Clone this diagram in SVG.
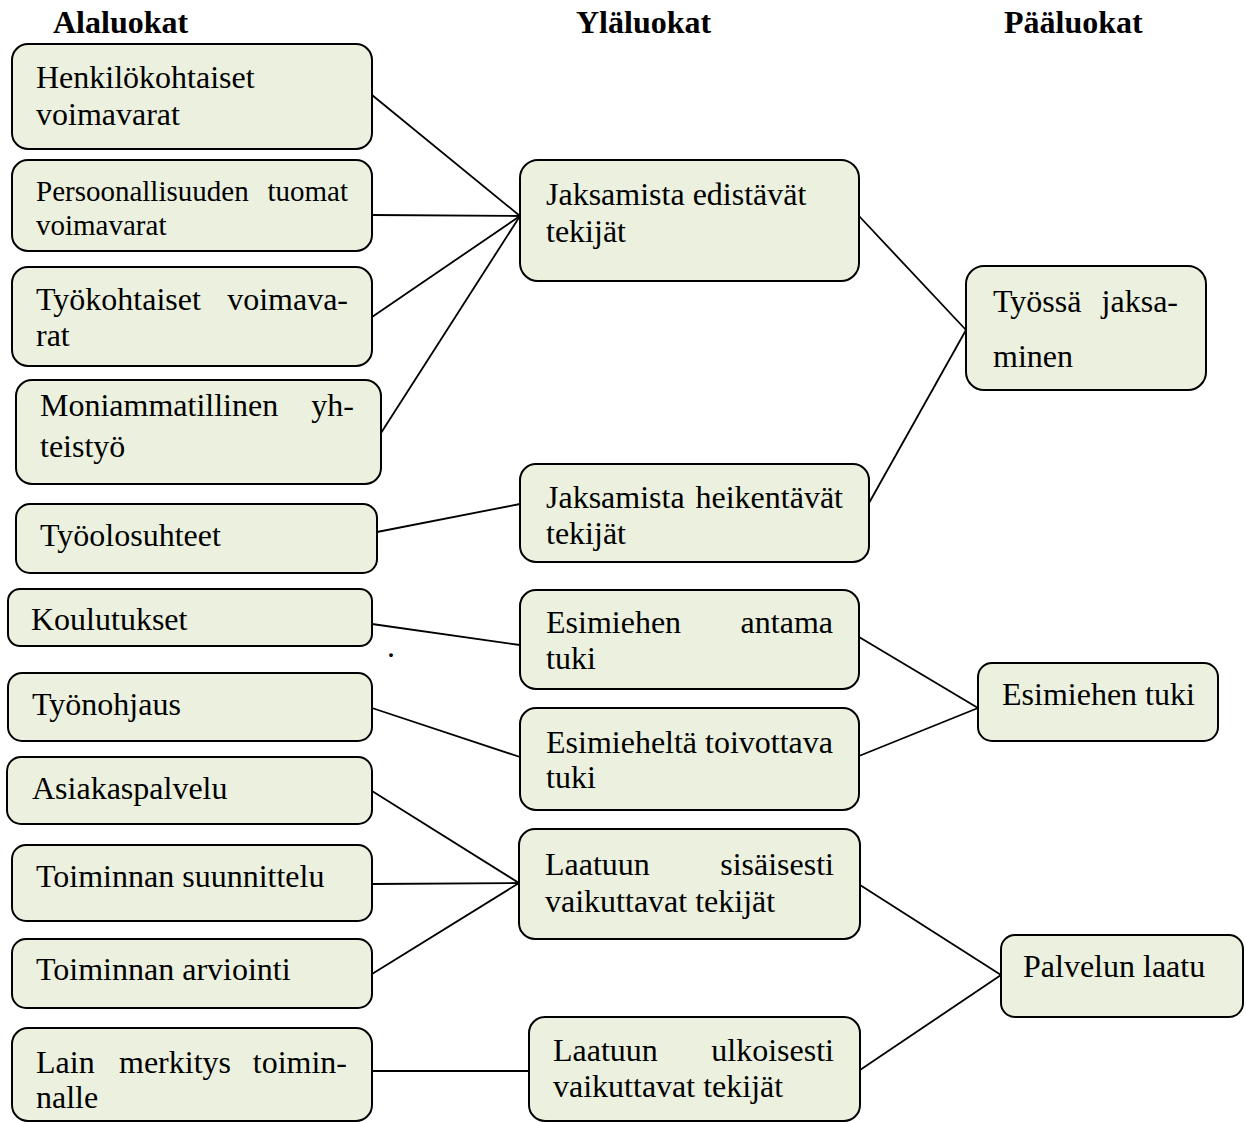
<svg xmlns="http://www.w3.org/2000/svg" width="1246" height="1122" viewBox="0 0 1246 1122">
<style>
.box{fill:#EBF1DE;stroke:#000;stroke-width:2}
.t{font-family:"Liberation Serif","Times New Roman",serif;font-size:32px;fill:#000}
.s{font-size:29px}
.h{font-family:"Liberation Serif","Times New Roman",serif;font-size:32px;font-weight:bold;fill:#000}
.e{text-anchor:end}
#connectors line{stroke:#000;stroke-width:1.8}
</style>
<rect width="1246" height="1122" fill="#fff"/>
<g id="headers">
<text class="h" x="53" y="33">Alaluokat</text>
<text class="h" x="576" y="33">Yläluokat</text>
<text class="h" x="1004" y="33">Pääluokat</text>
</g>
<g id="connectors">
<line x1="372" y1="95" x2="520" y2="216"/>
<line x1="372" y1="215" x2="520" y2="216"/>
<line x1="372" y1="317" x2="520" y2="216"/>
<line x1="381" y1="433" x2="520" y2="216"/>
<line x1="859" y1="216" x2="966" y2="330"/>
<line x1="869" y1="503" x2="966" y2="330"/>
<line x1="377" y1="532" x2="520" y2="504"/>
<line x1="372" y1="624" x2="520" y2="645"/>
<line x1="372" y1="708" x2="520" y2="757"/>
<line x1="859" y1="637" x2="978" y2="708"/>
<line x1="859" y1="756" x2="978" y2="708"/>
<line x1="372" y1="791" x2="519" y2="883"/>
<line x1="372" y1="884" x2="519" y2="883"/>
<line x1="372" y1="974" x2="519" y2="883"/>
<line x1="372" y1="1071" x2="529" y2="1071"/>
<line x1="860" y1="885" x2="1001" y2="975"/>
<line x1="860" y1="1070" x2="1001" y2="975"/>
</g>
<g id="n1"><rect class="box" x="12" y="44" width="360" height="105" rx="16"/>
<text class="t" x="36" y="88">Henkilökohtaiset</text><text class="t" x="36" y="125">voimavarat</text></g>
<g id="n2"><rect class="box" x="12" y="160" width="360" height="91" rx="16"/>
<text class="t s" x="36" y="201">Persoonallisuuden</text><text class="t s e" x="348" y="201">tuomat</text><text class="t s" x="36" y="235">voimavarat</text></g>
<g id="n3"><rect class="box" x="12" y="267" width="360" height="99" rx="16"/>
<text class="t" x="36" y="310">Työkohtaiset</text><text class="t e" x="348" y="310">voimava-</text><text class="t" x="36" y="346">rat</text></g>
<g id="n4"><rect class="box" x="16" y="380" width="365" height="104" rx="16"/>
<text class="t" x="40" y="416">Moniammatillinen</text><text class="t e" x="354" y="416">yh-</text><text class="t" x="40" y="457">teistyö</text></g>
<g id="n5"><rect class="box" x="16" y="504" width="361" height="69" rx="14"/>
<text class="t" x="40" y="546">Työolosuhteet</text></g>
<g id="n6"><rect class="box" x="8" y="589" width="364" height="57" rx="12"/>
<text class="t" x="31" y="630">Koulutukset</text></g>
<text class="t" x="387" y="657" font-size="20">.</text>
<g id="n7"><rect class="box" x="8" y="673" width="364" height="68" rx="14"/>
<text class="t" x="32" y="715">Työnohjaus</text></g>
<g id="n8"><rect class="box" x="7" y="757" width="365" height="67" rx="14"/>
<text class="t" x="32" y="799">Asiakaspalvelu</text></g>
<g id="n9"><rect class="box" x="12" y="845" width="360" height="76" rx="14"/>
<text class="t" x="36" y="887">Toiminnan suunnittelu</text></g>
<g id="n10"><rect class="box" x="12" y="939" width="360" height="69" rx="14"/>
<text class="t" x="36" y="980">Toiminnan arviointi</text></g>
<g id="n11"><rect class="box" x="12" y="1028" width="360" height="93" rx="16"/>
<text class="t" x="36" y="1073">Lain</text><text class="t" x="119" y="1073">merkitys</text><text class="t e" x="347" y="1073">toimin-</text><text class="t" x="36" y="1108">nalle</text></g>
<g id="m1"><rect class="box" x="520" y="160" width="339" height="121" rx="18"/>
<text class="t" x="546" y="205">Jaksamista edistävät</text><text class="t" x="546" y="242">tekijät</text></g>
<g id="m2"><rect class="box" x="520" y="464" width="349" height="98" rx="16"/>
<text class="t" x="546" y="508">Jaksamista</text><text class="t e" x="843" y="508">heikentävät</text><text class="t" x="546" y="544">tekijät</text></g>
<g id="m3"><rect class="box" x="520" y="590" width="339" height="99" rx="16"/>
<text class="t" x="546" y="633">Esimiehen</text><text class="t e" x="833" y="633">antama</text><text class="t" x="546" y="669">tuki</text></g>
<g id="m4"><rect class="box" x="520" y="708" width="339" height="102" rx="16"/>
<text class="t" x="546" y="753">Esimieheltä</text><text class="t e" x="833" y="753">toivottava</text><text class="t" x="546" y="788">tuki</text></g>
<g id="m5"><rect class="box" x="519" y="829" width="341" height="110" rx="16"/>
<text class="t" x="545" y="875">Laatuun</text><text class="t e" x="834" y="875">sisäisesti</text><text class="t" x="545" y="912">vaikuttavat tekijät</text></g>
<g id="m6"><rect class="box" x="529" y="1017" width="331" height="104" rx="16"/>
<text class="t" x="553" y="1061">Laatuun</text><text class="t e" x="834" y="1061">ulkoisesti</text><text class="t" x="553" y="1097">vaikuttavat tekijät</text></g>
<g id="p1"><rect class="box" x="966" y="266" width="240" height="124" rx="18"/>
<text class="t" x="993" y="312">Työssä</text><text class="t e" x="1178" y="312">jaksa-</text><text class="t" x="993" y="367">minen</text></g>
<g id="p2"><rect class="box" x="978" y="663" width="240" height="78" rx="14"/>
<text class="t" x="1002" y="705">Esimiehen tuki</text></g>
<g id="p3"><rect class="box" x="1001" y="935" width="242" height="82" rx="14"/>
<text class="t" x="1023" y="977">Palvelun laatu</text></g>
</svg>
